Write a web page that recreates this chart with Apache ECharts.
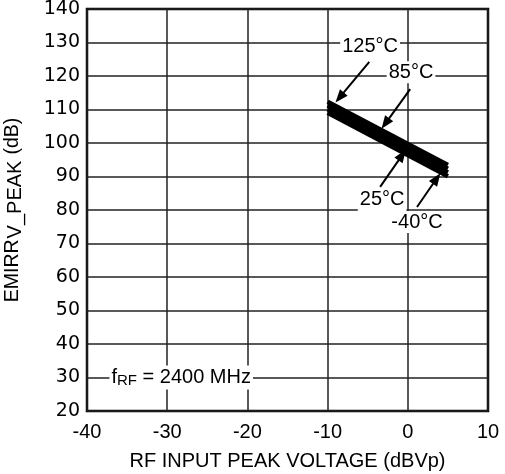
<!DOCTYPE html>
<html>
<head>
<meta charset="utf-8">
<script src="https://cdn.jsdelivr.net/npm/echarts@6/dist/echarts.min.js"></script>
<style>
  html, body { margin: 0; padding: 0; background: #fff; }
  #chart { width: 505px; height: 474px; }
</style>
</head>
<body>
<div id="chart"></div>
<script>
// x values of the curves (dBVp)
var xVals = [-10, 5]
// EMIRR per temperature (dB)
var t125 = [112.3, 93.4]
var t85 = [111.2, 92.3]
var t25 = [110.1, 91.2]
var tm40 = [109.0, 90.1]

var xTicks = [-40, -30, -20, -10, 0, 10]
var yTicks = [20, 30, 40, 50, 60, 70, 80, 90, 100, 110, 120, 130, 140]

// annotations: label text, label position, arrow start, arrow tip
var annoText = ['125°C', '85°C', '25°C', '-40°C']
var annoPos = [[-4.7, 128.9], [0.4, 121.1], [-3.2, 83.0], [1.15, 76.4]]
var arrowFrom = [[-4.8, 124.2], [0.3, 116.1], [-3.45, 86.9], [1.15, 80.9]]
var arrowTo = [[-8.5, 113.6], [-2.8, 105.8], [-0.7, 96.4], [3.6, 89.4]]

var noteMain = 'f'
var noteSub = 'RF'
var noteRest = ' = 2400 MHz'
var notePos = [-37.2, 30]

var yNameMain = 'EMIRR'
var yNameSub = 'V_PEAK'
var yNameUnit = '(dB)'

function toPairs (xs, ys) {
  return xs.map(function (x, i) { return [x, ys[i]] })
}

var font = 'Liberation Sans, Arial, sans-serif'
var chart = echarts.init(document.getElementById('chart'))

var lineSeries = [t125, t85, t25, tm40].map(function (ys, i) {
  return {
    name: annoText[i],
    type: 'line',
    data: toPairs(xVals, ys),
    symbol: 'none',
    lineStyle: { color: '#000', width: 4.5, cap: 'butt' },
    z: 3
  }
})

var arrows = arrowFrom.map(function (p, i) {
  return [{ coord: p }, { coord: arrowTo[i] }]
})

var option = {
  animation: false,
  grid: {
    left: 87, right: 17, top: 9, bottom: 63,
    outerBoundsMode: 'none',
    containLabel: false,
    show: true, borderColor: '#000', borderWidth: 2.5
  },
  xAxis: {
    type: 'value',
    min: -40, max: 10, interval: 10,
    name: 'RF INPUT PEAK VOLTAGE (dBVp)',
    nameLocation: 'middle',
    nameGap: 40,
    nameTextStyle: { fontFamily: font, fontSize: 20, color: '#000' },
    axisLine: { show: false },
    axisTick: { show: false },
    axisLabel: { fontFamily: font, fontSize: 20, color: '#000', margin: 11 },
    splitLine: { lineStyle: { color: '#222', width: 1.5 } }
  },
  yAxis: {
    type: 'value',
    min: 20, max: 140, interval: 10,
    name: '{m|' + yNameMain + '}{s|' + yNameSub + '}{m|' + yNameUnit + '}',
    nameLocation: 'middle',
    nameGap: 62,
    nameRotate: 90,
    nameTextStyle: {
      fontFamily: font, color: '#000',
      rich: {
        m: { fontFamily: font, fontSize: 19.5, lineHeight: 24, color: '#000' },
        s: { fontFamily: font, fontSize: 20, lineHeight: 17, padding: [0, 6, 0, 1], verticalAlign: 'bottom', color: '#000' }
      }
    },
    axisLine: { show: false },
    axisTick: { show: false },
    axisLabel: { fontFamily: 'DejaVu Sans, sans-serif', fontSize: 19, color: '#000', margin: 7 },
    splitLine: { lineStyle: { color: '#222', width: 1.5 } }
  },
  series: lineSeries.concat([
    {
      type: 'scatter',
      symbolSize: 0,
      z: 4,
      data: annoPos.map(function (p, i) {
        return { value: p, label: { formatter: annoText[i] } }
      }).concat([{
        value: notePos,
        label: {
          formatter: '{f|' + noteMain + '}{s|' + noteSub + '}{f|' + noteRest + '}',
          position: 'right',
          distance: 0,
          rich: {
            f: { fontFamily: font, fontSize: 20, lineHeight: 22, color: '#000' },
            s: { fontFamily: font, fontSize: 15, lineHeight: 11, verticalAlign: 'bottom', color: '#000' }
          }
        }
      }]),
      label: {
        show: true,
        position: 'inside',
        fontFamily: font,
        fontSize: 20,
        color: '#000',
        opacity: 1,
        textBorderWidth: 0,
        backgroundColor: '#fff',
        padding: [1, 2]
      },
      markLine: {
        silent: true,
        symbol: ['none', 'triangle'],
        symbolSize: [10, 13],
        lineStyle: { color: '#000', width: 2, type: 'solid' },
        label: { show: false },
        data: arrows
      }
    }
  ])
}

chart.setOption(option)
</script>
</body>
</html>
